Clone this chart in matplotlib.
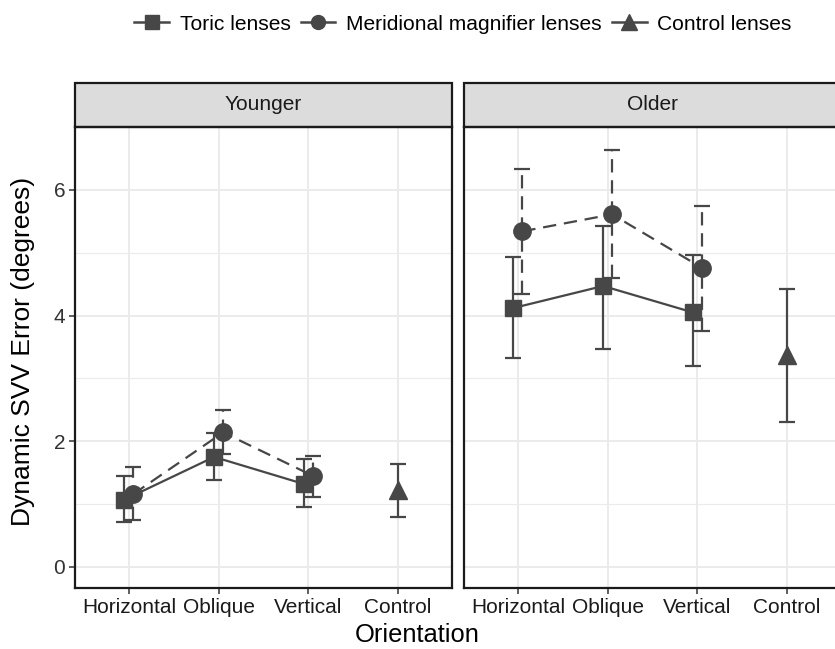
import matplotlib
matplotlib.use("Agg")
import matplotlib.pyplot as plt
from matplotlib.patches import Rectangle
from matplotlib.lines import Line2D
import numpy as np

plt.rcParams['font.family'] = ['Liberation Sans', 'DejaVu Sans']

categories = ["Horizontal", "Oblique", "Vertical", "Control"]
groups = ["Younger", "Older"]

# means and error bar ends
toric_mean = {"Younger": [1.07, 1.75, 1.32], "Older": [4.12, 4.47, 4.05]}
toric_lo = {"Younger": [0.71, 1.39, 0.95], "Older": [3.33, 3.46, 3.20]}
toric_hi = {"Younger": [1.44, 2.13, 1.71], "Older": [4.93, 5.43, 4.96]}

mm_mean = {"Younger": [1.16, 2.14, 1.45], "Older": [5.34, 5.61, 4.76]}
mm_lo = {"Younger": [0.74, 1.80, 1.12], "Older": [4.35, 4.59, 3.75]}
mm_hi = {"Younger": [1.59, 2.49, 1.77], "Older": [6.33, 6.63, 5.75]}

ctrl_mean = {"Younger": 1.23, "Older": 3.38}
ctrl_lo = {"Younger": 0.79, "Older": 2.31}
ctrl_hi = {"Younger": 1.64, "Older": 4.43}

col = "#474747"
dash = (0, (6, 3.5))
dodge = 0.05

fig = plt.figure(figsize=(8.35, 6.49), dpi=100)
W = 377 / 835
H = 461 / 649
bottom = 1 - 588 / 649
lefts = [75 / 835, 464 / 835]


def draw_series(ax, x, m, lo, hi, marker, ms, ls, bar_ls):
    m = np.array(m)
    err = [m - np.array(lo), np.array(hi) - m]
    line, caps, bars = ax.errorbar(x, m, yerr=err, fmt=marker, color=col, ms=ms,
                                   linestyle=ls, lw=1.6, elinewidth=1.6,
                                   capsize=6, capthick=1.6, zorder=3)
    for b in bars:
        b.set_linestyle(bar_ls)
    return line


for i, g in enumerate(groups):
    ax = fig.add_axes([lefts[i], bottom, W, H])
    xpos = np.arange(1, 4)
    draw_series(ax, xpos - dodge, toric_mean[g], toric_lo[g], toric_hi[g], "s", 12, "-", "-")
    draw_series(ax, xpos + dodge, mm_mean[g], mm_lo[g], mm_hi[g], "o", 12.5, dash, dash)
    draw_series(ax, [4], [ctrl_mean[g]], [ctrl_lo[g]], [ctrl_hi[g]], "^", 13.5, "none", "-")

    ax.set_xlim(0.4, 4.6)
    ax.set_ylim(-0.335, 7.0)
    ax.set_xticks(range(1, 5))
    ax.set_xticklabels(categories, fontsize=15, color="#1a1a1a")
    ax.set_yticks([0, 2, 4, 6])
    ax.set_yticks([1, 3, 5], minor=True)
    ax.grid(True, which="major", color="#ebebeb", lw=1.4, zorder=0)
    ax.grid(True, which="minor", axis="y", color="#ebebeb", lw=0.8, zorder=0)
    ax.set_axisbelow(True)
    ax.tick_params(axis="both", which="major", length=4, width=1.1, color="#333333", pad=3)
    ax.tick_params(axis="y", which="minor", length=0)
    if i == 0:
        ax.set_yticklabels(["0", "2", "4", "6"], fontsize=15, color="#333333")
    else:
        ax.tick_params(axis="y", left=False, labelleft=False)
    for s in ax.spines.values():
        s.set_color("#1a1a1a")
        s.set_linewidth(1.6)

    # facet strip
    sh = 44 / 461
    ax.add_patch(Rectangle((0, 1), 1, sh, transform=ax.transAxes, clip_on=False,
                           facecolor="#dcdcdc", edgecolor="#1a1a1a", lw=1.6))
    ax.text(0.5, 1 + sh / 2, g, transform=ax.transAxes, ha="center", va="center",
            fontsize=15, color="#1a1a1a")

fig.text(23 / 835, 1 - 351 / 649, "Dynamic SVV Error (degrees)", rotation=90,
         ha="center", va="center", fontsize=19)
fig.text(0.5, 1 - 635 / 649, "Orientation", ha="center", va="center", fontsize=18.4)

handles = [
    Line2D([], [], color=col, marker="s", ms=10, lw=1.8),
    Line2D([], [], color=col, marker="o", ms=10, lw=1.8),
    Line2D([], [], color=col, marker="^", ms=12, lw=1.8),
]
labels = ["Toric lenses", "Meridional magnifier lenses", "Control lenses"]
fig.legend(handles, labels, loc="center", bbox_to_anchor=(463 / 835, 1 - 24 / 649),
           ncol=3, frameon=False, fontsize=15.1, handlelength=1.65,
           handletextpad=0.5, columnspacing=0.5)

fig.savefig("out.png", dpi=100)
